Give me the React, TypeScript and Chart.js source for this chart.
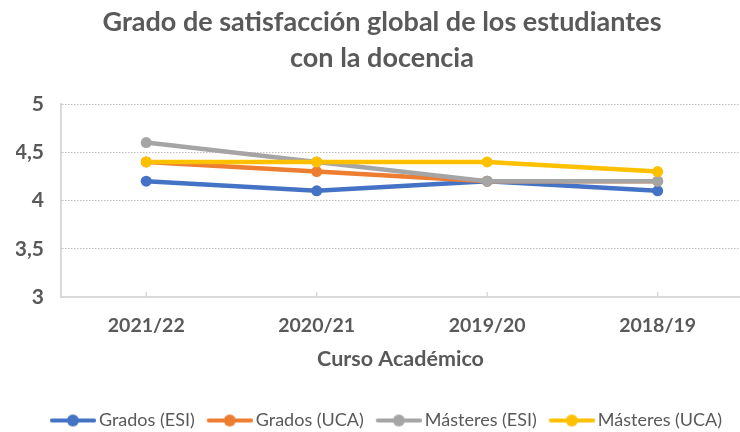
import React, { useEffect, useRef } from "react";
import { Chart, registerables } from "chart.js";

Chart.register(...registerables);

const categories = ["2021/22", "2020/21", "2019/20", "2018/19"];
const seriesNames = ["Grados (ESI)", "Grados (UCA)", "Másteres (ESI)", "Másteres (UCA)"];
const gradosESI = [4.2, 4.1, 4.2, 4.1];
const gradosUCA = [4.4, 4.3, 4.2, 4.2];
const masteresESI = [4.6, 4.4, 4.2, 4.2];
const masteresUCA = [4.4, 4.4, 4.4, 4.3];
const seriesColors = ["#4472C4", "#ED7D31", "#A5A5A5", "#FFC000"];
const titleLines = ["Grado de satisfacción global de los estudiantes", "con la docencia"];
const xTitle = "Curso Académico";

const TEXT = "#595959";
const FONT = "Lato, 'Open Sans', sans-serif";

function legendIcon(color: string) {
  const c = document.createElement("canvas");
  c.width = 60;
  c.height = 14;
  const ctx = c.getContext("2d")!;
  ctx.strokeStyle = color;
  ctx.lineWidth = 4.2;
  ctx.lineCap = "round";
  ctx.beginPath();
  ctx.moveTo(16, 7);
  ctx.lineTo(58, 7);
  ctx.stroke();
  ctx.fillStyle = color;
  ctx.beginPath();
  ctx.arc(37, 7, 6, 0, Math.PI * 2);
  ctx.fill();
  return c;
}

const innerTicks = {
  id: "innerTicks",
  beforeDatasetsDraw(chart: any) {
    const xs = chart.scales.x;
    const ctx = chart.ctx;
    const bottom = chart.chartArea.bottom;
    ctx.save();
    ctx.strokeStyle = "#D9D9D9";
    ctx.lineWidth = 1.5;
    xs.ticks.forEach((t: any) => {
      const px = xs.getPixelForValue(t.value);
      ctx.beginPath();
      ctx.moveTo(px, bottom);
      ctx.lineTo(px, bottom - 5);
      ctx.stroke();
    });
    ctx.restore();
  },
};

export default function App() {
  const ref = useRef<HTMLCanvasElement>(null);
  useEffect(() => {
    document.body.style.margin = "0";
    const all = [gradosESI, gradosUCA, masteresESI, masteresUCA];
    const datasets = all.map((vals, k) => ({
      label: seriesNames[k],
      data: vals.map((v, i) => ({ x: i, y: v })),
      borderColor: seriesColors[k],
      backgroundColor: seriesColors[k],
      borderWidth: 4.5,
      pointRadius: 5.5,
      pointHoverRadius: 5.5,
      pointBorderWidth: 0,
      tension: 0,
      order: 3 - k,
    }));
    const icons = seriesColors.map(legendIcon);
    const chart = new Chart(ref.current!, {
      type: "line",
      data: { datasets },
      plugins: [innerTicks],
      options: {
        animation: false,
        responsive: false,
        maintainAspectRatio: false,
        layout: { autoPadding: false, padding: { left: 16, right: -8, top: 0, bottom: -7.5 } },
        plugins: {
          tooltip: { enabled: false },
          title: {
            display: true,
            text: titleLines,
            color: TEXT,
            font: { family: FONT, size: 27, weight: "bold", lineHeight: 36 / 27 },
            padding: { top: 4.5, bottom: 27.5 },
          },
          legend: {
            position: "bottom",
            labels: {
              usePointStyle: true,
              pointStyleWidth: 48,
              padding: 4,
              color: TEXT,
              font: { family: FONT, size: 18 },
              generateLabels: (ch: any) =>
                ch.data.datasets.map((d: any, i: number) => ({
                  text: d.label,
                  fillStyle: d.borderColor,
                  strokeStyle: d.borderColor,
                  fontColor: TEXT,
                  lineWidth: 0,
                  pointStyle: icons[i],
                  hidden: false,
                  datasetIndex: i,
                })),
            },
          },
        },
        scales: {
          x: {
            type: "linear",
            min: -0.5,
            max: 3.483,
            afterBuildTicks: (scale: any) => {
              scale.ticks = categories.map((_, i) => ({ value: i }));
            },
            ticks: {
              color: TEXT,
              font: { family: FONT, size: 19.5, weight: "bold" },
              padding: 17.3,
              callback: (v: any) => categories[Math.round(Number(v))] ?? "",
              autoSkip: false,
              maxRotation: 0,
            },
            grid: {
              display: false,
              drawOnChartArea: false,
              drawTicks: false,
            },
            border: { display: true, color: "#D9D9D9", width: 2 },
            title: {
              display: true,
              text: xTitle,
              color: TEXT,
              font: { family: FONT, size: 21.5, weight: "bold" },
              padding: { top: -8.9, bottom: 35.6 },
            },
          },
          y: {
            min: 3,
            max: 5,
            afterFit: (scale: any) => {
              scale.width = 45;
            },
            ticks: {
              stepSize: 0.5,
              color: TEXT,
              font: { family: FONT, size: 21, weight: "bold" },
              padding: 17,
              callback: (v: any) => String(Number(v)).replace(".", ","),
            },
            grid: {
              color: (c: any) => (c.tick && c.tick.value === 3 ? "rgba(0,0,0,0)" : "#BFBFBF"),
              lineWidth: 1,
              drawTicks: false,
            },
            border: { display: true, color: "#D9D9D9", width: 2, dash: [1.5, 1.5] },
          },
        },
      },
    } as any);
    return () => chart.destroy();
  }, []);
  return (
    <div style={{ width: 740, height: 432 }}>
      <canvas ref={ref} width={740} height={432} style={{ width: 740, height: 432, display: "block" }} />
    </div>
  );
}
